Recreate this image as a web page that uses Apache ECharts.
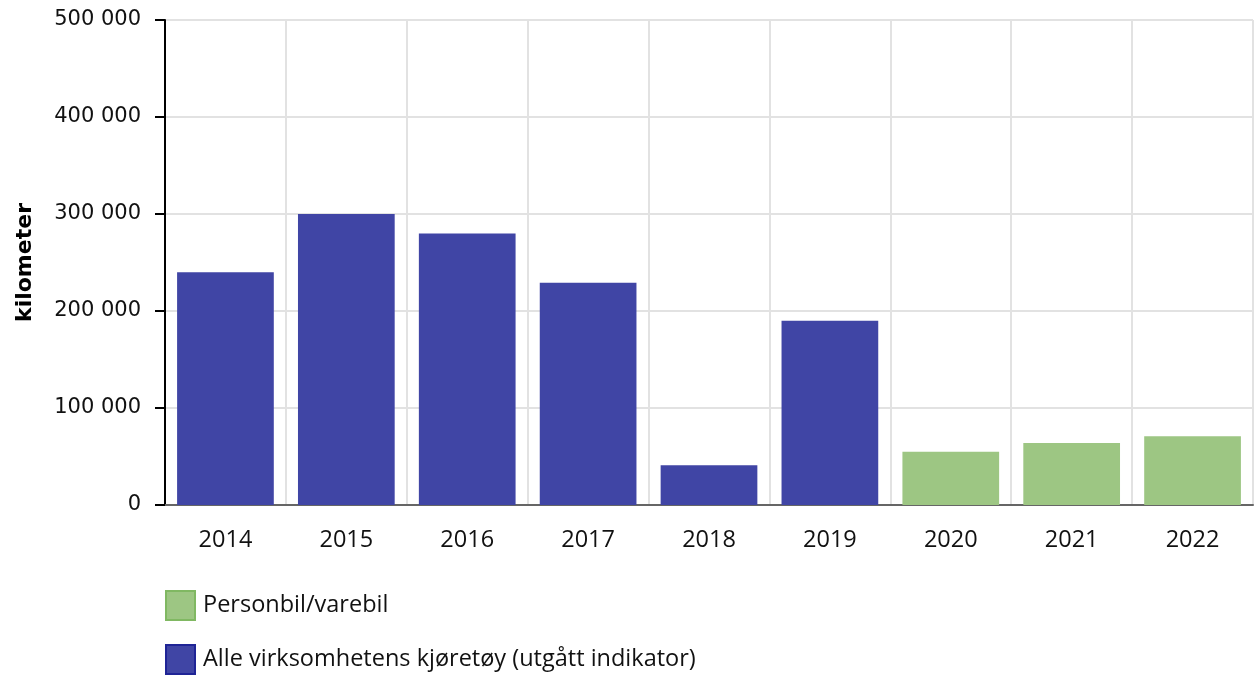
<!DOCTYPE html>
<html style="height: 100%">
	<head>
		<meta charset="utf-8" />
		<title>Kilometer</title>
		<script src="https://cdn.jsdelivr.net/npm/echarts@6/dist/echarts.min.js"></script>
	</head>
	<body style="height: 100%; margin: 0">
		<div id="container" style="width: 1256px; height: 675px"></div>
		<script type="text/javascript">
			// years on the x axis
			let years = ["2014", "2015", "2016", "2017", "2018", "2019", "2020", "2021", "2022"];

			// values, '-' where a series has no bar
			let personbil = ["-", "-", "-", "-", "-", "-", 55000, 64000, 71000];
			let alleKjoretoy = [240000, 300000, 280000, 229000, 41000, 190000, "-", "-", "-"];

			let seriesNames = ["Personbil/varebil", "Alle virksomhetens kjøretøy (utgått indikator)"];

			let wideFont = "DejaVu Sans";
			let narrowFont = "Open Sans";

			// 500000 -> "500 000"
			function fmt(v) {
				return String(v).replace(/\B(?=(\d{3})+(?!\d))/g, " ");
			}

			let chart = echarts.init(document.getElementById("container"));
			chart.setOption({
				animation: false,
				grid: { left: 165, right: 3, top: 20, bottom: 170, outerBoundsMode: "none" },
				legend: {
					orient: "vertical",
					left: 165,
					top: 590,
					padding: 0,
					icon: "rect",
					itemWidth: 29,
					itemHeight: 29,
					itemGap: 23,
					textStyle: { fontSize: 23.5, color: "#111", fontFamily: narrowFont, padding: [0, 0, 0, 3] },
					data: [
						{ name: seriesNames[0], itemStyle: { borderColor: "#80b862", borderWidth: 2 } },
						{ name: seriesNames[1], itemStyle: { borderColor: "#1f2496", borderWidth: 2 } },
					],
				},
				xAxis: {
					type: "category",
					data: years,
					axisLine: { lineStyle: { color: "#666", width: 2 } },
					axisTick: { alignWithLabel: true, length: 8, lineStyle: { color: "#999", width: 2 } },
					axisLabel: { fontSize: 23.5, color: "#111", margin: 23, fontFamily: narrowFont },
					splitLine: { show: true, lineStyle: { color: "#e2e2e2", width: 2 } },
				},
				yAxis: {
					type: "value",
					min: 0,
					max: 500000,
					interval: 100000,
					name: "kilometer",
					nameLocation: "middle",
					nameGap: 129,
					nameTextStyle: { fontSize: 22, fontWeight: "bold", color: "#000", fontFamily: wideFont },
					axisLine: { show: true, lineStyle: { color: "#000", width: 2 } },
					axisTick: { show: true, length: 10, lineStyle: { color: "#000", width: 2 } },
					axisLabel: { fontSize: 21, color: "#111", margin: 24, fontFamily: wideFont, formatter: fmt },
					splitLine: { lineStyle: { color: "#e2e2e2", width: 2 } },
				},
				series: [
					{
						name: seriesNames[0],
						type: "bar",
						stack: "km",
						barCategoryGap: "20%",
						itemStyle: { color: "#9dc683" },
						data: personbil,
					},
					{
						name: seriesNames[1],
						type: "bar",
						stack: "km",
						barCategoryGap: "20%",
						itemStyle: { color: "#4045a5" },
						data: alleKjoretoy,
					},
				],
			});
		</script>
	</body>
</html>
